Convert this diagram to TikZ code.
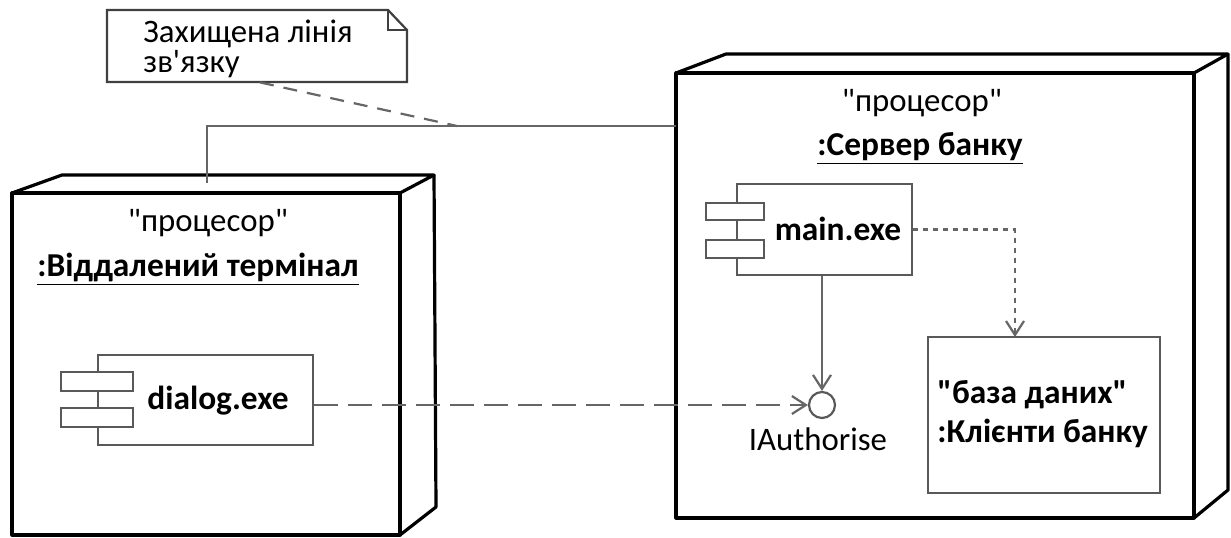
\documentclass[tikz,border=0pt]{standalone}
\usepackage{fontspec}
\setmainfont{Carlito}[Ligatures=TeXOff]
\usetikzlibrary{arrows.meta}
\begin{document}
\begin{tikzpicture}[x=0.5pt,y=-0.5pt,
  nodeline/.style={draw=black, line width=1.6pt, line join=round},
  compline/.style={draw=black!65, line width=1.1pt},
  conn/.style={draw=black!60, line width=1.1pt},
  lbl/.style={font=\fontsize{16.4}{19.5}\selectfont, inner sep=0pt},
  blbl/.style={font=\fontsize{16.7}{19.5}\selectfont\bfseries, inner sep=0pt},
  openarrow/.style={-{Straight Barb[length=7pt,width=9pt]}}
]
\useasboundingbox (0,0) rectangle (1231,537);

% ---------- note ----------
\node[minimum width=150pt, minimum height=36pt, inner sep=0pt] (note) at (257,46) {};
\draw[compline, draw=black!75] (107,10) -- (388,10) -- (407,30) -- (407,82) -- (107,82) -- cycle;
\draw[compline, draw=black!75] (388,10) -- (388,30) -- (407,30);
\node[font=\fontsize{16.4}{15}\selectfont, inner sep=0pt, anchor=base west, align=left] (notetxt) at (143,72) {Захищена лінія\\зв'язку};

% ---------- left node ----------
\node[nodeline, minimum width=194pt, minimum height=171pt, inner sep=0pt] (term) at (206,364) {};
\draw[nodeline] (12,193) -- (62,175) -- (434,175) -- (400,193);
\draw[nodeline] (434,175) -- (436,507) -- (400,535);
\node[lbl, anchor=base] (termst) at (208,231) {"процесор"};
\node[blbl, anchor=base] (termnm) at (198,276) {\underline{:Віддалений термінал}};

% ---------- right node ----------
\node[nodeline, minimum width=259pt, minimum height=222.5pt, inner sep=0pt] (server) at (935,295.5) {};
\draw[nodeline] (676,73) -- (726,54) -- (1228,54) -- (1194,73);
\draw[nodeline] (1228,54) -- (1228,490) -- (1194,518);
\node[lbl, anchor=base] (srvst) at (922,111) {"процесор"};
\node[blbl, anchor=base] (srvnm) at (920,155) {\underline{:Сервер банку}};

% ---------- components ----------
\node[compline, draw, fill=white, minimum width=107.5pt, minimum height=45pt, inner sep=0pt] (dialog) at (205.5,400) {};
\draw[compline, fill=white] (61,372) rectangle (133,391);
\draw[compline, fill=white] (61,408) rectangle (133,427);
\node[blbl, anchor=base] (dialogtxt) at (218,409) {dialog.exe};

\node[compline, draw, fill=white, minimum width=87.5pt, minimum height=45.5pt, inner sep=0pt] (main) at (824.5,229.5) {};
\draw[compline, fill=white] (706,203) rectangle (764,220);
\draw[compline, fill=white] (706,240) rectangle (764,258);
\node[blbl, anchor=base] (maintxt) at (838,240) {main.exe};

% ---------- database ----------
\node[compline, draw, minimum width=116pt, minimum height=78pt, inner sep=0pt] (db) at (1044,415) {};
\node[blbl, anchor=west, align=left] (dbtxt) at (937,414) {"база даних"\\:Клієнти банку};

% ---------- interface ----------
\node[compline, draw, circle, minimum size=13pt, inner sep=0pt] (iface) at (822,405) {};
\node[lbl, anchor=base] (ifacetxt) at (818,450) {IAuthorise};

% ---------- connectors ----------
\coordinate (termtop) at (207,183);
\coordinate (srvport) at (676,126);
\coordinate (notepin) at (457,126);
\coordinate (dbin) at (1015,337);
\draw[conn] (termtop) |- (srvport);
\draw[conn, dash pattern=on 7pt off 5pt] (note.south) ++(3,0) -- (notepin);
\draw[conn, openarrow, dash pattern=on 12pt off 5pt] (dialog.east |- iface) -- (iface.west);
\draw[conn, openarrow] (iface |- main.south) -- (iface.north);
\draw[conn, openarrow, dash pattern=on 2.5pt off 2.5pt] (main.east) -| (dbin);
\end{tikzpicture}
\end{document}
